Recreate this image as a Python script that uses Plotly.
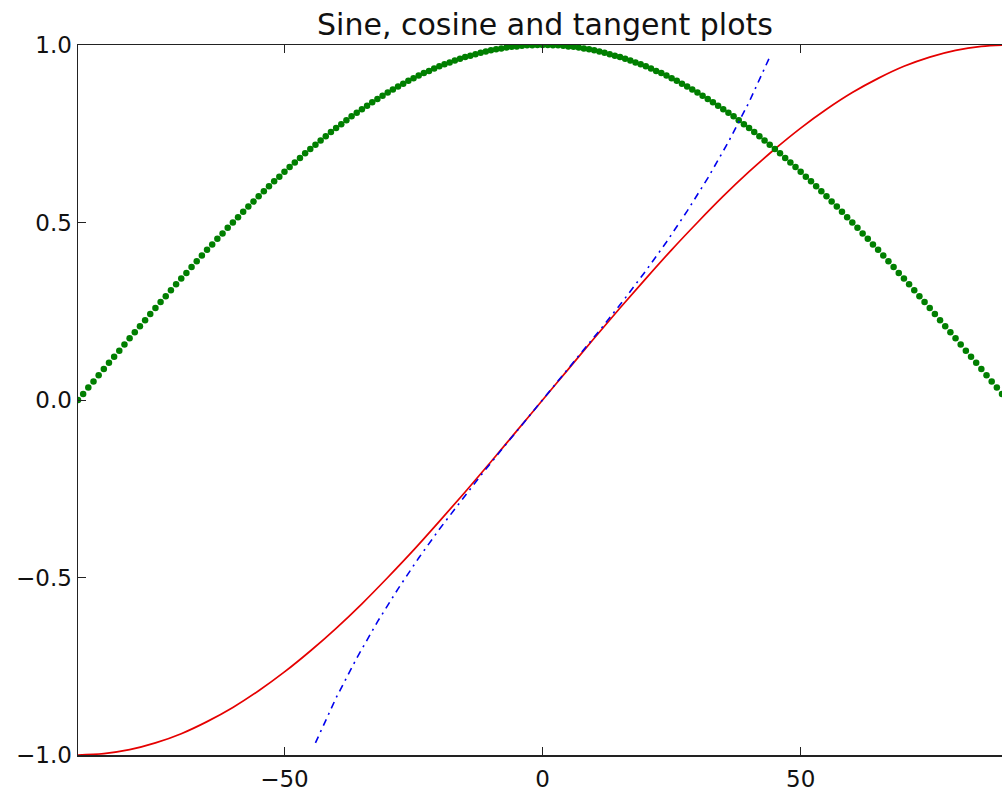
import plotly.graph_objects as go

# Cosine sampled every degree from -90 to 90 (green dots)
cos_x = list(range(-90, 91))
cos_y = [
    0.000, 0.017, 0.035, 0.052, 0.070, 0.087, 0.105, 0.122, 0.139, 0.156,
    0.174, 0.191, 0.208, 0.225, 0.242, 0.259, 0.276, 0.292, 0.309, 0.326,
    0.342, 0.358, 0.375, 0.391, 0.407, 0.423, 0.438, 0.454, 0.469, 0.485,
    0.500, 0.515, 0.530, 0.545, 0.559, 0.574, 0.588, 0.602, 0.616, 0.629,
    0.643, 0.656, 0.669, 0.682, 0.695, 0.707, 0.719, 0.731, 0.743, 0.755,
    0.766, 0.777, 0.788, 0.799, 0.809, 0.819, 0.829, 0.839, 0.848, 0.857,
    0.866, 0.875, 0.883, 0.891, 0.899, 0.906, 0.914, 0.921, 0.927, 0.934,
    0.940, 0.946, 0.951, 0.956, 0.961, 0.966, 0.970, 0.974, 0.978, 0.982,
    0.985, 0.988, 0.990, 0.993, 0.995, 0.996, 0.998, 0.999, 0.999, 1.000,
    1.000,
    1.000, 0.999, 0.999, 0.998, 0.996, 0.995, 0.993, 0.990, 0.988, 0.985,
    0.982, 0.978, 0.974, 0.970, 0.966, 0.961, 0.956, 0.951, 0.946, 0.940,
    0.934, 0.927, 0.921, 0.914, 0.906, 0.899, 0.891, 0.883, 0.875, 0.866,
    0.857, 0.848, 0.839, 0.829, 0.819, 0.809, 0.799, 0.788, 0.777, 0.766,
    0.755, 0.743, 0.731, 0.719, 0.707, 0.695, 0.682, 0.669, 0.656, 0.643,
    0.629, 0.616, 0.602, 0.588, 0.574, 0.559, 0.545, 0.530, 0.515, 0.500,
    0.485, 0.469, 0.454, 0.438, 0.423, 0.407, 0.391, 0.375, 0.358, 0.342,
    0.326, 0.309, 0.292, 0.276, 0.259, 0.242, 0.225, 0.208, 0.191, 0.174,
    0.156, 0.139, 0.122, 0.105, 0.087, 0.070, 0.052, 0.035, 0.017, 0.000,
]

# Sine (red solid line)
sin_x = [-90, -85, -80, -75, -70, -65, -60, -55, -50, -45, -40, -35, -30, -25,
         -20, -15, -10, -5, 0, 5, 10, 15, 20, 25, 30, 35, 40, 45, 50, 55, 60,
         65, 70, 75, 80, 85, 90]
sin_y = [-1.000, -0.996, -0.985, -0.966, -0.940, -0.906, -0.866, -0.819,
         -0.766, -0.707, -0.643, -0.574, -0.500, -0.423, -0.342, -0.259,
         -0.174, -0.087, 0.000, 0.087, 0.174, 0.259, 0.342, 0.423, 0.500,
         0.574, 0.643, 0.707, 0.766, 0.819, 0.866, 0.906, 0.940, 0.966,
         0.985, 0.996, 1.000]

# Tangent (blue dash-dot line), visible part only
tan_x = [-44, -40, -36, -32, -28, -24, -20, -16, -12, -8, -4, 0,
         4, 8, 12, 16, 20, 24, 28, 32, 36, 40, 44]
tan_y = [-0.966, -0.839, -0.727, -0.625, -0.532, -0.445, -0.364, -0.287,
         -0.213, -0.141, -0.070, 0.000, 0.070, 0.141, 0.213, 0.287, 0.364,
         0.445, 0.532, 0.625, 0.727, 0.839, 0.966]

x_ticks = [-50, 0, 50]
y_ticks = [-1.0, -0.5, 0.0, 0.5, 1.0]
y_tick_text = ["\u22121.0", "\u22120.5", "0.0", "0.5", "1.0"]

FONT = "DejaVu Sans"
W, H = 1002, 792

fig = go.Figure()
fig.add_trace(go.Scatter(x=sin_x, y=sin_y, mode="lines", line_shape="spline",
                         line=dict(color="#e50000", width=1.7),
                         showlegend=False, hoverinfo="skip"))
fig.add_trace(go.Scatter(x=cos_x, y=cos_y, mode="markers",
                         marker=dict(color="#007f00", size=6.5, line=dict(width=0)),
                         showlegend=False, hoverinfo="skip"))
fig.add_trace(go.Scatter(x=tan_x, y=tan_y, mode="lines",
                         line=dict(color="#0000ee", width=1.6, dash="7px,5px,2px,5px"),
                         showlegend=False, hoverinfo="skip"))

fig.update_layout(
    width=W, height=H,
    margin=dict(l=78, r=0, t=45, b=32, pad=0),
    paper_bgcolor="white", plot_bgcolor="white",
    font=dict(family=FONT, color="black"),
    hovermode=False,
    title=dict(text="Sine, cosine and tangent plots",
               font=dict(family=FONT, size=30, color="#111"),
               x=(545 - 78) / 924, xref="paper", xanchor="center",
               y=1 - 24 / H, yref="container", yanchor="middle"),
    xaxis=dict(range=[-90, 89], tickvals=x_ticks, ticks="inside", ticklen=8,
               tickwidth=1, tickcolor="#222", showline=True, linecolor="#222",
               linewidth=1.5, mirror="ticks", showgrid=False, zeroline=False,
               ticklabelstandoff=3,
               tickfont=dict(family=FONT, size=23, color="#111")),
    yaxis=dict(range=[-1, 1], tickvals=y_ticks, ticktext=y_tick_text,
               ticks="inside", ticklen=8, tickwidth=1, tickcolor="#222",
               showline=True, linecolor="#222", linewidth=1.5, mirror=False,
               showgrid=False, zeroline=False,
               tickfont=dict(family=FONT, size=23, color="#111")),
)

# remove the page's default body margin so the figure fills the window exactly
fig.write_html(
    "out.html",
    config={"displayModeBar": False, "staticPlot": True},
    post_script="document.body.style.margin='0';document.body.style.overflow='hidden';",
)
